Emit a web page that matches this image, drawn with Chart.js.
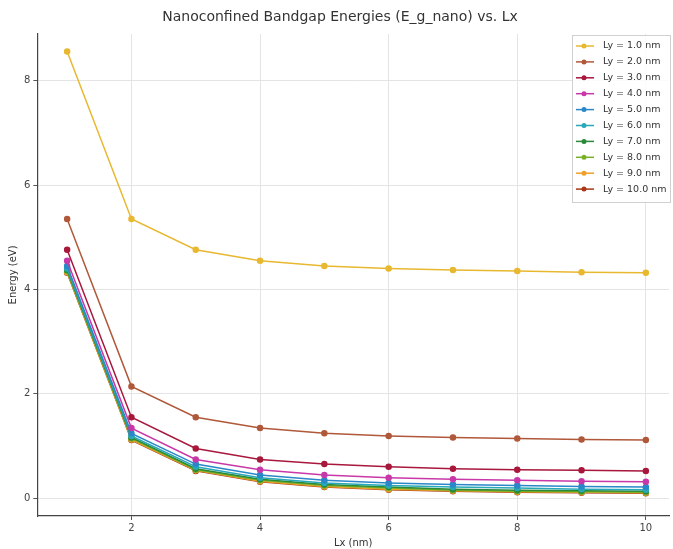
<!DOCTYPE html>
<html>
<head>
<meta charset="utf-8">
<script src="https://cdn.jsdelivr.net/npm/chart.js@4"></script>
<style>
  body { margin: 0; background: #fff; }
</style>
</head>
<body>
<canvas id="gapChart" width="673" height="549"></canvas>
<script>
// Lx values (nm)
const lxValues = [1, 2, 3, 4, 5, 6, 7, 8, 9, 10];
const lyLabels = ['Ly = 1.0 nm', 'Ly = 2.0 nm', 'Ly = 3.0 nm', 'Ly = 4.0 nm', 'Ly = 5.0 nm',
                  'Ly = 6.0 nm', 'Ly = 7.0 nm', 'Ly = 8.0 nm', 'Ly = 9.0 nm', 'Ly = 10.0 nm'];

// energies (eV)
const ly1  = [8.56, 5.35, 4.76, 4.55, 4.45, 4.40, 4.37, 4.35, 4.33, 4.32];
const ly2  = [5.35, 2.14, 1.55, 1.34, 1.24, 1.19, 1.16, 1.14, 1.12, 1.11];
const ly3  = [4.76, 1.55, 0.95, 0.74, 0.65, 0.60, 0.56, 0.54, 0.53, 0.52];
const ly4  = [4.55, 1.34, 0.74, 0.54, 0.44, 0.39, 0.36, 0.34, 0.32, 0.31];
const ly5  = [4.45, 1.24, 0.65, 0.44, 0.34, 0.29, 0.26, 0.24, 0.22, 0.21];
const ly6  = [4.40, 1.19, 0.60, 0.39, 0.29, 0.24, 0.21, 0.19, 0.17, 0.16];
const ly7  = [4.37, 1.16, 0.56, 0.36, 0.26, 0.21, 0.17, 0.15, 0.14, 0.13];
const ly8  = [4.35, 1.14, 0.54, 0.34, 0.24, 0.19, 0.15, 0.13, 0.12, 0.11];
const ly9  = [4.33, 1.12, 0.53, 0.32, 0.22, 0.17, 0.14, 0.12, 0.11, 0.10];
const ly10 = [4.32, 1.11, 0.52, 0.31, 0.21, 0.16, 0.13, 0.11, 0.10, 0.09];

const xTicks = [2, 4, 6, 8, 10];
const yTicks = [0, 2, 4, 6, 8];

const seriesData = [ly1, ly2, ly3, ly4, ly5, ly6, ly7, ly8, ly9, ly10];
const colors = ['#e8b830', '#b0583a', '#a8183c', '#c838a8', '#2a88c8',
                '#28a8b8', '#2a8a38', '#78b028', '#f0a028', '#a83818'];

const fontFamily = '"DejaVu Sans", sans-serif';

const datasets = seriesData.map(function(vals, i) {
    return {
        label: lyLabels[i],
        data: vals.map(function(v, j) { return { x: lxValues[j], y: v }; }),
        borderColor: colors[i],
        backgroundColor: colors[i],
        borderWidth: 1.5,
        pointRadius: 2.5,
        pointHoverRadius: 2.5,
        tension: 0
    };
});

// legend drawn inside the plot, top right
const innerLegend = {
    id: 'innerLegend',
    afterDraw: function(chart) {
        const c = chart.ctx;
        const x0 = 572, y0 = 35, w = 98, rowH = 15.9;
        const h = 167;
        c.save();
        c.fillStyle = 'rgba(255,255,255,0.85)';
        c.strokeStyle = '#d0d0d0';
        c.lineWidth = 1;
        c.fillRect(x0, y0, w, h);
        c.strokeRect(x0 + 0.5, y0 + 0.5, w, h);
        c.font = '9.5px ' + fontFamily;
        c.textBaseline = 'middle';
        chart.data.datasets.forEach(function(ds, i) {
            const yy = y0 + 11 + i * rowH;
            c.strokeStyle = ds.borderColor;
            c.lineWidth = 1.5;
            c.beginPath();
            c.moveTo(x0 + 4, yy);
            c.lineTo(x0 + 22, yy);
            c.stroke();
            c.fillStyle = ds.borderColor;
            c.beginPath();
            c.arc(x0 + 12, yy, 2.5, 0, Math.PI * 2);
            c.fill();
            c.fillStyle = '#333';
            c.fillText(ds.label, x0 + 31, yy);
        });
        c.restore();
    }
};

const ctx = document.getElementById('gapChart').getContext('2d');
const gapChart = new Chart(ctx, {
    type: 'line',
    data: { datasets: datasets },
    options: {
        responsive: false,
        animation: false,
        layout: { padding: { top: 9, right: 0, left: 7, bottom: 0 } },
        scales: {
            x: {
                type: 'linear',
                min: 0.537,
                max: 10.36,
                afterBuildTicks: function(scale) {
                    scale.ticks = xTicks.map(function(v) { return { value: v }; });
                },
                grid: { color: '#e4e4e4', tickLength: 4, tickColor: '#555' },
                border: { color: '#444', width: 1.2 },
                ticks: { color: '#444', font: { family: fontFamily, size: 10 }, padding: 2 },
                title: { display: true, text: 'Lx (nm)', color: '#333',
                         font: { family: fontFamily, size: 10 }, padding: { top: 1, bottom: 0 } }
            },
            y: {
                min: -0.345,
                max: 8.9,
                afterBuildTicks: function(scale) {
                    scale.ticks = yTicks.map(function(v) { return { value: v }; });
                },
                grid: { color: '#e4e4e4', tickLength: 4, tickColor: '#555' },
                border: { color: '#444', width: 1.2 },
                ticks: { color: '#444', font: { family: fontFamily, size: 10 }, padding: 3 },
                title: { display: true, text: 'Energy (eV)', color: '#333',
                         font: { family: fontFamily, size: 10 }, padding: { top: 0, bottom: 2 } }
            }
        },
        plugins: {
            legend: { display: false },
            tooltip: { enabled: false },
            title: {
                display: true,
                text: 'Nanoconfined Bandgap Energies (E_g_nano) vs. Lx',
                color: '#333',
                font: { family: fontFamily, size: 14, weight: 'normal' },
                padding: { top: 0, bottom: 8 }
            }
        }
    },
    plugins: [innerLegend]
});
</script>
</body>
</html>
